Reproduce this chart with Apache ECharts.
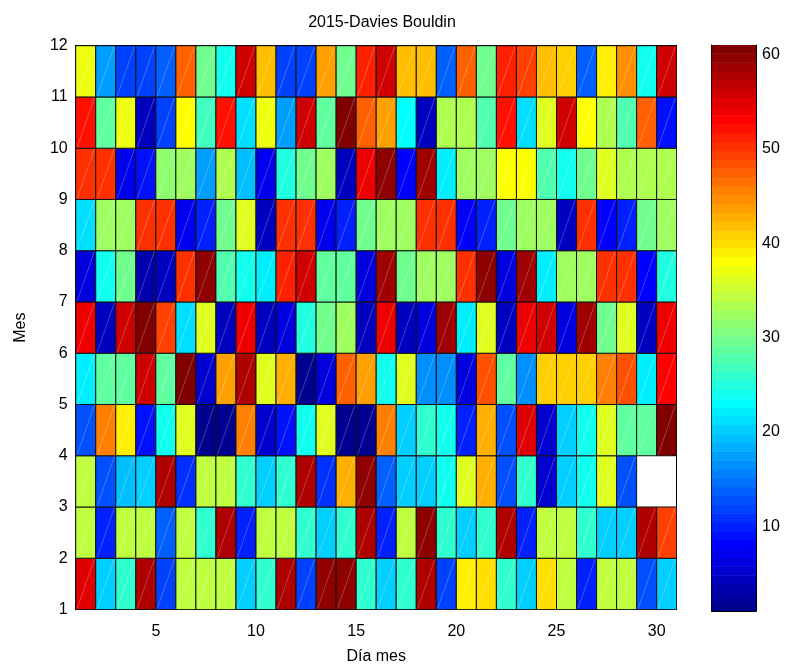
<!DOCTYPE html>
<html><head><meta charset="utf-8">
<script src="https://cdn.jsdelivr.net/npm/echarts@6/dist/echarts.min.js"></script>
<style>html,body{margin:0;padding:0;background:#fff}#c{width:789px;height:671px}</style>
</head><body><div id="c"></div>
<script>
// Day columns (cell spans [d, d+1]) and month rows (cell spans [m, m+1])
const days = [1,2,3,4,5,6,7,8,9,10,11,12,13,14,15,16,17,18,19,20,21,22,23,24,25,26,27,28,29,30];
const months = [1,2,3,4,5,6,7,8,9,10,11];
const m01 = [55,20,25.5,58,11.5,34,34,34,20,25.5, 57.25,11.5,59.5,59.5,26,20,25.5,57.25,11.5,39, 39.5,26,20,39.5,34,10,34,34,13,20];
const m02 = [34,10,34,34,14,34,25.5,57.25,10,34, 34,26,20,25.5,57.25,10,34,59.5,26,20, 25.5,57.25,10,34,34,26,20,20.5,57.25,49];
const m03 = [34,13,19.5,20.5,57.25,10.5,34,34,26,20, 26,57.25,10.5,42.25,59.5,13.5,20,20,23.5,36, 42.25,13,26,5.5,20.5,23.5,36,13,null,null];
const m04 = [13,45.5,38.5,8.5,23.5,36,1.5,1.5,45.5,5.5, 8.5,23.5,36,1.5,1.5,45.5,20,25.5,23.5,10, 42.25,13,55,5.5,20.5,23.5,36,29,29,61];
const m05 = [22,29,29,56,29,61,5.5,44,57.25,36, 43,1.5,6,47.5,44,23.5,36,16,16,6.5, 48.5,29,16,40.5,40.5,40.5,45.5,48.5,22,53];
const m06 = [53.5,4,56,61,49,21.5,36.5,4.5,53.5,4, 6,25,30,32.5,4,53.5,4,6,59,22, 36.5,4.5,53.5,56,6.5,59,30,36.5,4.5,53.5];
const m07 = [6,24,30,3,4,50.5,60,28,24,22, 51.5,55.5,29,29,6.5,59,30,32.5,32.5,50.5, 60,6,59,22,32.5,32.5,50.5,50.5,8,25];
const m08 = [21.5,32.5,32.5,50.5,50.5,7,9.5,30,36.5,4.5, 50.5,50.5,7,9.5,30,32.5,32.5,50.5,50.5,8, 9.5,30,32.5,32.5,4,50.5,8,9.5,30,32.5];
const m09 = [50.5,50.5,7,9,31,32.5,17,33.5,19,7, 25,30,32.5,4.5,53.5,60,8,59,22,32.5, 32.5,38,38,28,24,30,36,33.5,33.5,33.5];
const m10 = [52.5,29,37,4.5,12,38,27,52.5,21.5,37, 17.5,56,29,61,47.5,44,23,4.5,33.5,33.5, 28,52.5,21.5,36.5,55.5,38,33.5,28,47,8.5];
const m11 = [37,17,11.5,12,14,47,29.5,23.5,55.5,41.5, 11.5,12,44,29.5,51.5,55.5,41.5,41.5,14,47, 29.5,51.5,49,41.5,40.5,14,38.5,45,23.5,55.5];
const rows = [m01,m02,m03,m04,m05,m06,m07,m08,m09,m10,m11];
const xTicks = [5,10,15,20,25,30];
const yTicks = [1,2,3,4,5,6,7,8,9,10,11,12];
const cbTicks = [10,20,30,40,50,60];
const cMin = 1, cMax = 61, nColors = 64;

function jet(i){ // MATLAB jet(64), 1-based row i
  let r=0,g=0,b=0;
  if(i<=8){ b=0.5625+(i-1)/16; }
  else if(i<=24){ g=(i-8)/16; b=1; }
  else if(i<=40){ r=(i-24)/16; g=1; b=1-(i-24)/16; }
  else if(i<=56){ r=1; g=1-(i-40)/16; }
  else { r=1-(i-56)/16; }
  const h = x => Math.round(Math.max(0,Math.min(1,x))*255);
  return 'rgb('+h(r)+','+h(g)+','+h(b)+')';
}
function colorOf(v){
  let k = Math.floor((v-cMin)/(cMax-cMin)*nColors);
  k = Math.max(0, Math.min(nColors-1, k));
  return jet(k+1);
}

const cellData = [];
months.forEach((m, mi) => days.forEach((d, di) => {
  const v = rows[mi][di];
  cellData.push([d, m, v == null ? NaN : v]);
}));
const cbData = [];
for (let k = 0; k < nColors; k++) cbData.push([k, cMin + (cMax-cMin)*k/nColors, cMin + (cMax-cMin)*(k+1)/nColors]);

const font = "'Liberation Sans', Arial, sans-serif";
const black = '#000';
const lblStyle = {color: black, fontFamily: font, fontSize: 16};
const boxLine = {show: true, onZero: false, lineStyle: {color: black, width: 1}};
const inTick = {show: true, inside: true, length: 5, lineStyle: {color: black}};

const chart = echarts.init(document.getElementById('c'), null, {renderer: 'canvas'});
chart.setOption({
  backgroundColor: '#fff',
  animation: false,
  title: {text: '2015-Davies Bouldin', left: 377, top: 10, textAlign: 'center',
          textStyle: {color: black, fontFamily: font, fontSize: 16, fontWeight: 'normal'}},
  grid: [
    {left: 75.7, right: 112.3, top: 45.7, bottom: 61.5},
    {left: 711.7, width: 44.3, top: 45, bottom: 60}
  ],
  xAxis: [
    {type: 'value', gridIndex: 0, min: 1, max: 31, splitNumber: 6, minInterval: 5, maxInterval: 5,
     name: 'Día mes', nameLocation: 'middle', nameGap: 39, nameTextStyle: lblStyle,
     axisLine: boxLine, axisTick: inTick,
     axisLabel: {show: true, margin: 14, showMinLabel: false, showMaxLabel: false, ...lblStyle},
     splitLine: {show: false}},
    {type: 'value', gridIndex: 0, position: 'top', min: 1, max: 31, splitNumber: 6, minInterval: 5, maxInterval: 5,
     axisLine: boxLine, axisTick: inTick, axisLabel: {show: false}, splitLine: {show: false}},
    {type: 'value', gridIndex: 1, position: 'bottom', min: 0, max: 1,
     axisLine: boxLine, axisTick: {show: false}, axisLabel: {show: false}, splitLine: {show: false}},
    {type: 'value', gridIndex: 1, position: 'top', min: 0, max: 1,
     axisLine: boxLine, axisTick: {show: false}, axisLabel: {show: false}, splitLine: {show: false}}
  ],
  yAxis: [
    {type: 'value', gridIndex: 0, min: 1, max: 12, interval: 1,
     name: 'Mes', nameLocation: 'middle', nameGap: 47, nameTextStyle: lblStyle,
     axisLine: boxLine, axisTick: inTick,
     axisLabel: {show: true, margin: 8, ...lblStyle},
     splitLine: {show: false}},
    {type: 'value', gridIndex: 0, position: 'right', min: 1, max: 12, interval: 1,
     axisLine: boxLine, axisTick: inTick, axisLabel: {show: false}, splitLine: {show: false}},
    {type: 'value', gridIndex: 1, position: 'right', min: cMin, max: cMax, minInterval: 10, maxInterval: 10,
     axisLine: boxLine, axisTick: inTick,
     axisLabel: {show: true, margin: 6, showMinLabel: false, showMaxLabel: false, ...lblStyle},
     splitLine: {show: false}},
    {type: 'value', gridIndex: 1, position: 'left', min: cMin, max: cMax, minInterval: 10, maxInterval: 10,
     axisLine: boxLine, axisTick: inTick, axisLabel: {show: false}, splitLine: {show: false}}
  ],
  series: [
    {type: 'custom', xAxisIndex: 0, yAxisIndex: 0, data: cellData, clip: true, z: 1,
     renderItem: function(params, api){
       const v = api.value(2);
       if (v == null || isNaN(v)) return;
       const p0 = api.coord([api.value(0), api.value(1)]);
       const p1 = api.coord([api.value(0)+1, api.value(1)+1]);
       const x = p0[0], y = p1[1], w = p1[0]-p0[0], h = p0[1]-p1[1];
       return {type: 'group', children: [
         {type: 'rect', shape: {x: x, y: y, width: w, height: h},
          style: {fill: colorOf(v), stroke: '#111', lineWidth: 1}},
         {type: 'line', shape: {x1: x+1.5, y1: y+h-1, x2: x+w-1.5, y2: y+1},
          style: {stroke: 'rgba(255,255,255,0.3)', lineWidth: 0.8}}
       ]};
     }},
    {type: 'custom', xAxisIndex: 2, yAxisIndex: 2, data: cbData, z: 1, clip: true,
     renderItem: function(params, api){
       const k = api.value(0);
       const p0 = api.coord([0, api.value(1)]);
       const p1 = api.coord([1, api.value(2)]);
       const top = k === nColors-1 ? p1[1] : p1[1]-0.5;
       return {type: 'rect', shape: {x: p0[0], y: top, width: p1[0]-p0[0], height: p0[1]-top},
               style: {fill: jet(k+1)}};
     }}
  ]
});
</script>
</body></html>
